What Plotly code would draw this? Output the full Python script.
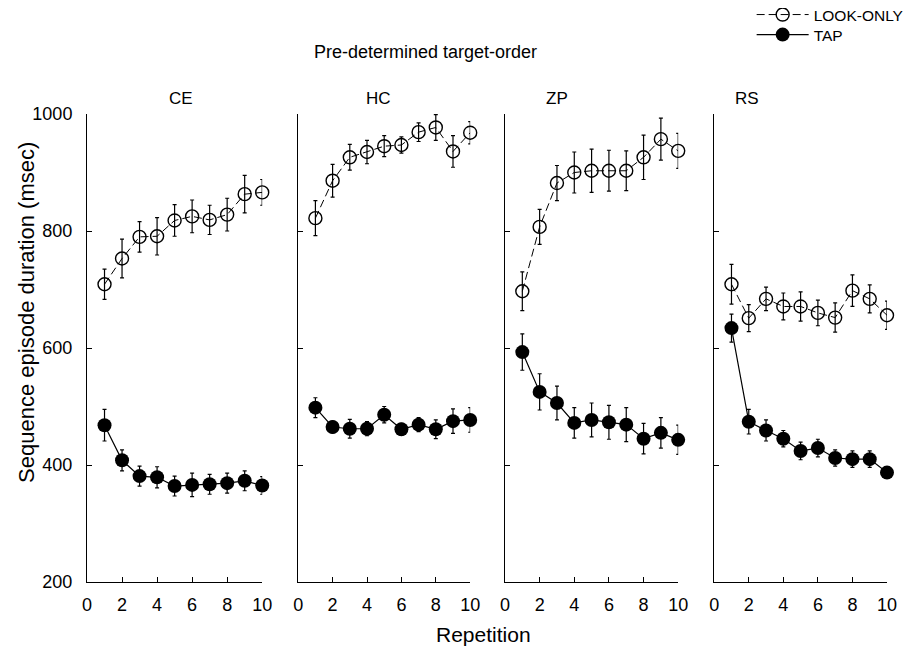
import plotly.graph_objects as go

reps = [1, 2, 3, 4, 5, 6, 7, 8, 9, 10]
subjects = ["CE", "HC", "ZP", "RS"]

look_only = {
    "CE": [709, 753, 790, 791, 818, 825, 819, 828, 863, 866],
    "HC": [822, 886, 926, 935, 945, 947, 969, 977, 936, 968],
    "ZP": [697, 807, 882, 900, 903, 903, 903, 926, 957, 937],
    "RS": [709, 651, 684, 671, 671, 660, 652, 698, 684, 656],
}
look_only_err = {
    "CE": [26, 33, 26, 32, 27, 28, 25, 28, 32, 22],
    "HC": [30, 28, 22, 20, 18, 14, 16, 22, 27, 19],
    "ZP": [33, 30, 30, 35, 37, 35, 34, 38, 36, 30],
    "RS": [34, 23, 20, 23, 25, 22, 25, 27, 24, 24],
}
tap = {
    "CE": [468, 408, 381, 379, 364, 366, 367, 369, 373, 365],
    "HC": [498, 465, 462, 462, 486, 461, 469, 461, 475, 477],
    "ZP": [593, 525, 506, 472, 477, 473, 469, 445, 455, 443],
    "RS": [634, 474, 459, 445, 424, 429, 412, 410, 410, 387],
}
tap_err = {
    "CE": [27, 18, 17, 18, 17, 20, 17, 17, 17, 15],
    "HC": [17, 10, 16, 12, 14, 10, 12, 16, 21, 21],
    "ZP": [31, 31, 29, 26, 29, 29, 29, 26, 26, 25],
    "RS": [24, 21, 18, 14, 15, 15, 14, 14, 14, 10],
}

x_ticks = [0, 2, 4, 6, 8, 10]
y_ticks = [200, 400, 600, 800, 1000]

FONT = "Liberation Sans"
domains = [[0.0, 0.219], [0.264, 0.479], [0.5225, 0.739], [0.784, 1.0]]
title_x = [0.1175, 0.364, 0.5875, 0.825]

fig = go.Figure()
for i, s in enumerate(subjects):
    ax = "" if i == 0 else str(i + 1)
    fig.add_trace(go.Scatter(
        x=reps, y=look_only[s], mode="lines+markers", name="LOOK-ONLY",
        legend="legend", showlegend=(i == 0), cliponaxis=False,
        line=dict(color="black", width=1, dash="8px,4px"),
        marker=dict(symbol="circle-open", size=13, color="black", line=dict(width=1.4)),
        error_y=dict(type="data", array=look_only_err[s], color="black", thickness=1.2, width=2),
        xaxis="x" + ax, yaxis="y" + ax,
    ))
    fig.add_trace(go.Scatter(
        x=reps, y=tap[s], mode="lines+markers", name="TAP",
        legend="legend2", showlegend=(i == 0), cliponaxis=False,
        line=dict(color="black", width=1.2),
        marker=dict(symbol="circle", size=14, color="black"),
        error_y=dict(type="data", array=tap_err[s], color="black", thickness=1.2, width=2),
        xaxis="x" + ax, yaxis="y" + ax,
    ))
    axis_common = dict(showline=True, linecolor="black", linewidth=1, ticks="inside",
                       ticklen=5, tickcolor="black", showgrid=False, zeroline=False,
                       tickfont=dict(family=FONT, size=18, color="black"))
    fig.layout["xaxis" + ax] = dict(domain=domains[i], range=[0, 10], tickvals=x_ticks,
                                    anchor="y" + ax, ticklabelstandoff=6, **axis_common)
    fig.layout["yaxis" + ax] = dict(domain=[0, 1], range=[200, 1000], tickvals=y_ticks,
                                    showticklabels=(i == 0), anchor="x" + ax,
                                    ticklabelstandoff=10, **axis_common)
    fig.add_annotation(text=s, x=title_x[i], y=1.034, xanchor="center", yanchor="middle",
                       xref="paper", yref="paper", showarrow=False,
                       font=dict(family=FONT, size=17, color="black"))

fig.add_annotation(text="Pre-determined target-order", x=0.4225, y=1.1325, xref="paper", yref="paper",
                   xanchor="center", yanchor="middle",
                   showarrow=False, font=dict(family=FONT, size=18, color="black"))
fig.add_annotation(text="Sequence episode duration (msec)", x=-0.075, y=0.575, xref="paper", yref="paper",
                   xanchor="center", yanchor="middle",
                   showarrow=False, textangle=-90, font=dict(family=FONT, size=22, color="black"))
fig.add_annotation(text="Repetition", x=0.496, y=-0.113, xref="paper", yref="paper",
                   xanchor="center", yanchor="middle",
                   showarrow=False, font=dict(family=FONT, size=21, color="black"))

legend_common = dict(xref="container", yref="container", xanchor="left", yanchor="middle",
                     bgcolor="rgba(0,0,0,0)", itemwidth=52,
                     font=dict(family=FONT, size=15.5, color="black"))

fig.update_layout(
    width=912, height=646,
    margin=dict(l=79, r=33, t=106, b=72, autoexpand=False),
    paper_bgcolor="white", plot_bgcolor="white",
    showlegend=True,
    legend=dict(x=0.8154, y=0.9892, **legend_common),
    legend2=dict(x=0.8154, y=0.9582, **legend_common),
)

fig.write_html("out.html")
